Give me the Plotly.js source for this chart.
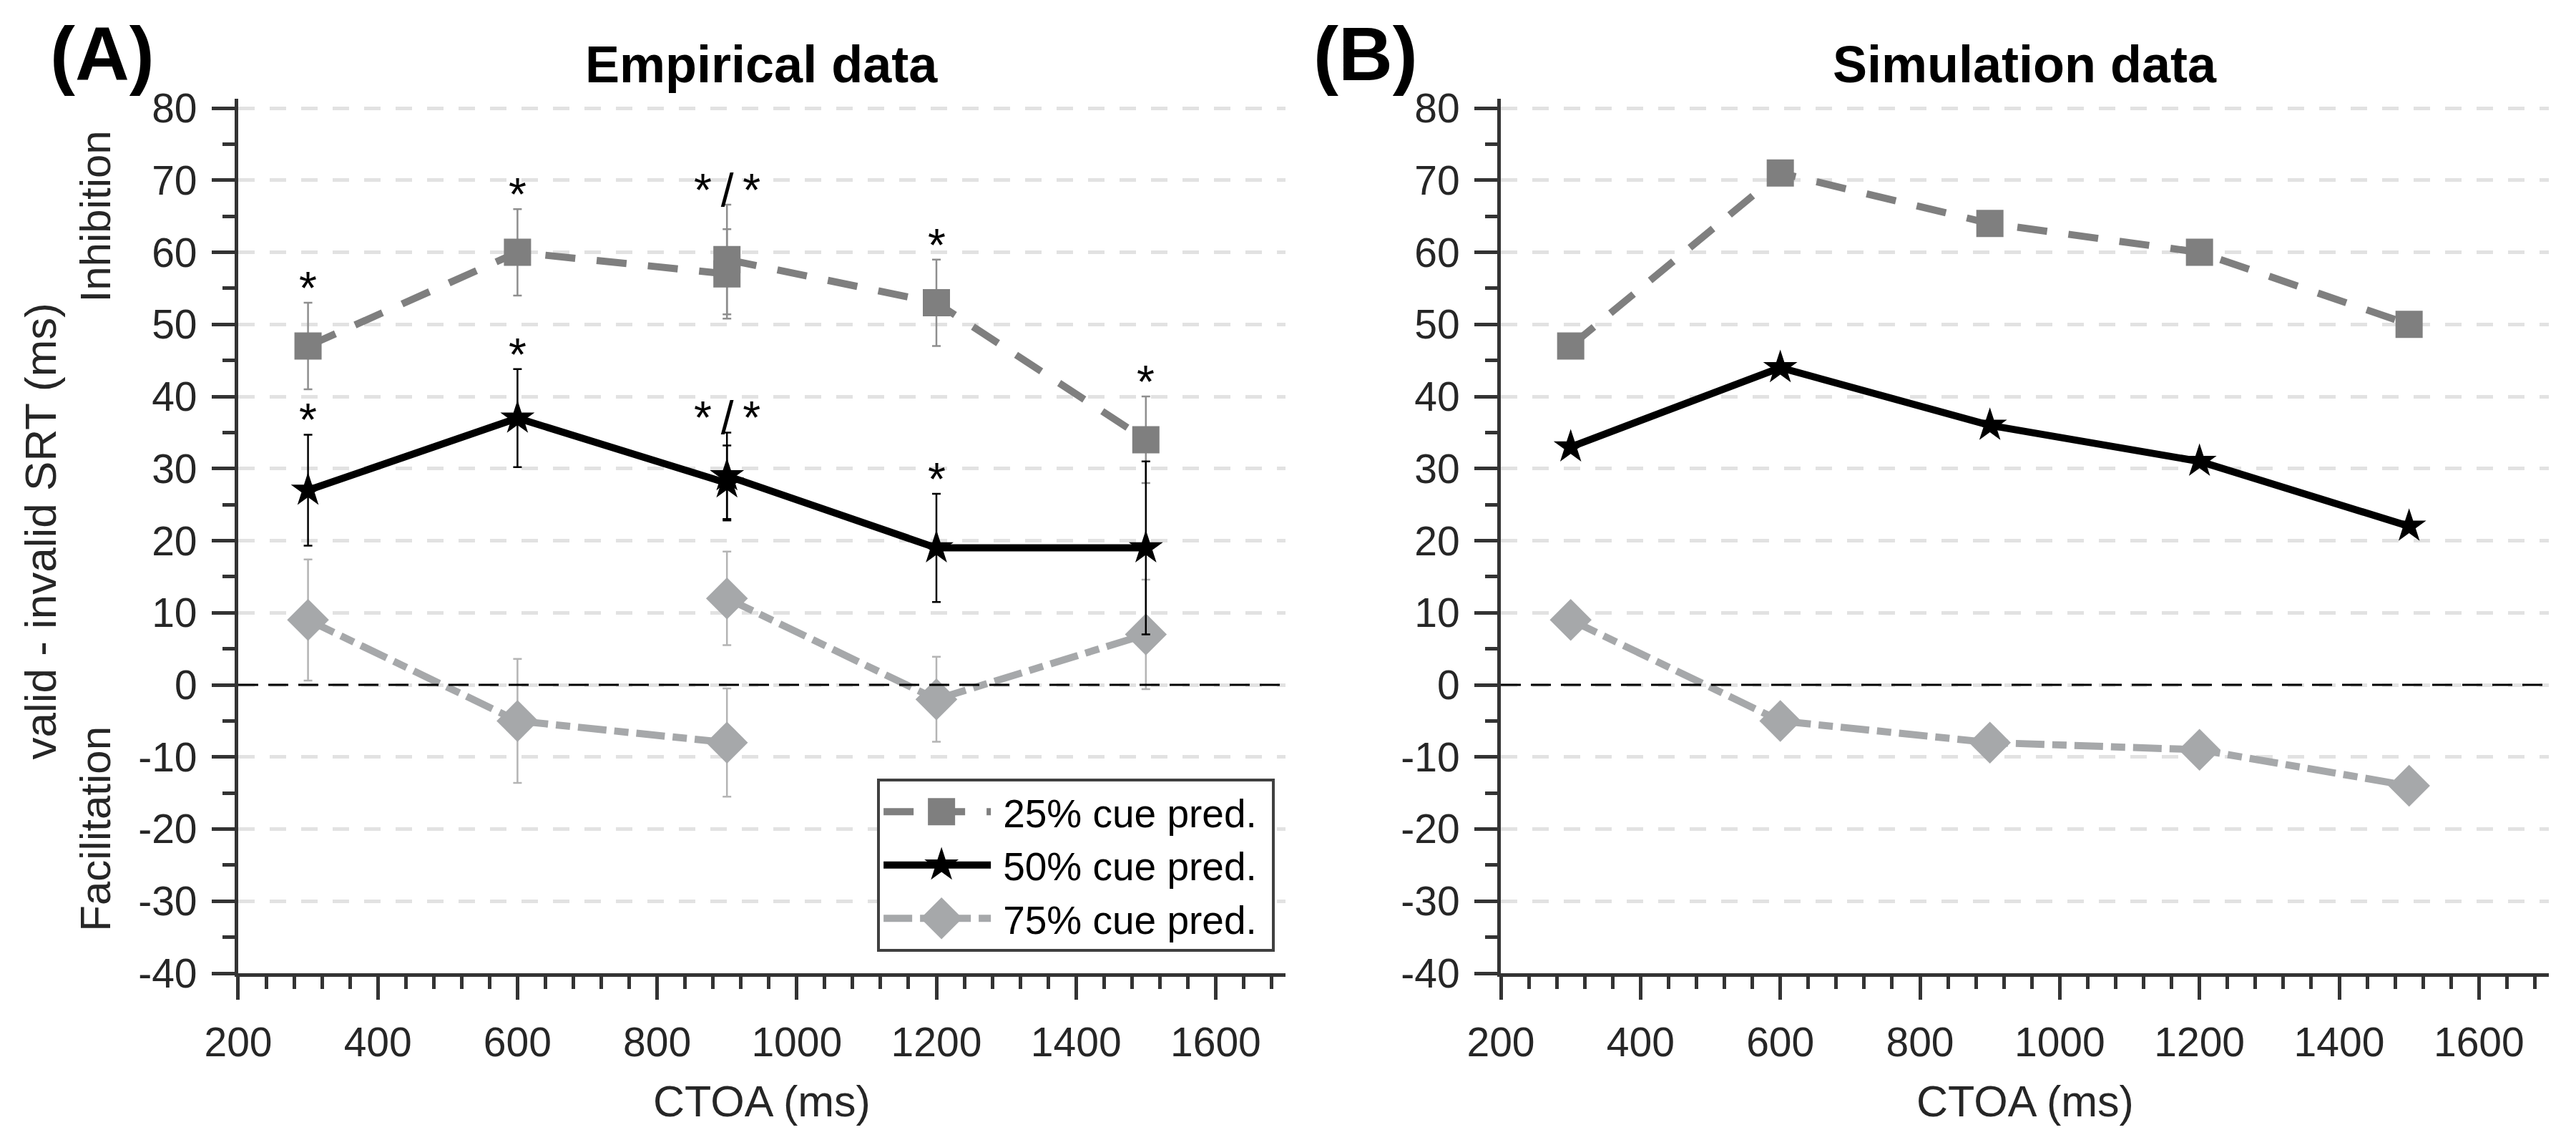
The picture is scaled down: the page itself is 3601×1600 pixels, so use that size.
<!DOCTYPE html>
<html>
<head>
<meta charset="utf-8">
<script src="https://cdn.plot.ly/plotly-3.0.1.min.js"></script>
<style>
html, body { margin: 0; padding: 0; background: #fff; }
#chart { width: 3601px; height: 1600px; }
</style>
</head>
<body>
<div id="chart"></div>
<script>
// CTOA levels: experiment 1 ran 300-900 ms, experiment 2 ran 900-1500 ms
var ctoaExp1 = [300, 600, 900];
var ctoaExp2 = [900, 1200, 1500];
var ctoaSim = [300, 600, 900, 1200, 1500];

// empirical valid - invalid SRT (ms)
var emp25Exp1 = [47, 60, 57];
var emp25Exp2 = [59, 53, 34];
var emp50Exp1 = [27, 37, 28];
var emp50Exp2 = [29, 19, 19];
var emp75Exp1 = [9, -5, -8];
var emp75Exp2 = [12, -2, 7];

// error bar half lengths (ms)
var err25Exp1 = [6, 6, 6.2];
var err25Exp2 = [7.6, 6, 6];
var err50Exp1 = [7.7, 6.8, 5.2];
var err50Exp2 = [6, 7.5, 12];
var err75Exp1 = [8.4, 8.6, 7.5];
var err75Exp2 = [6.5, 5.9, 7.6];

// significance marks above the error bars
var sigCtoa = [300, 600, 900, 1200, 1500];
var sig25 = ['*', '*', '*\u2009/\u2009*', '*', '*'];
var sig50 = ['*', '*', '*\u2009/\u2009*', '*', ''];

// simulation data
var sim25 = [47, 71, 64, 60, 50];
var sim50 = [33, 44, 36, 31, 22];
var sim75 = [9, -5, -8, -9, -14];

var seriesNames = ['25% cue pred.', '50% cue pred.', '75% cue pred.'];

// y tick labels (plain hyphen minus as in the figure)
var yTickVals = [-40, -30, -20, -10, 0, 10, 20, 30, 40, 50, 60, 70, 80];
var yTickText = ['-40', '-30', '-20', '-10', '0', '10', '20', '30', '40', '50', '60', '70', '80'];

var FONT = 'Liberation Sans, Arial, Helvetica, sans-serif';
var INK = '#262626';
var AXIS = '#333333';

var styles = [
  { color: '#7f7f7f', err: '#8e8e8e', dash: '42px,30px', symbol: 'square', size: 38 },
  { color: '#000000', err: '#000000', dash: 'solid', symbol: 'star', size: 36 },
  { color: '#a6a8aa', err: '#b4b4b4', dash: '40px,11px,20px,11px', symbol: 'diamond', size: 45 }
];

// join the two experiments with a gap so the line breaks at 900 ms
function joinExp(a, b) { return a.concat([null], b); }

var empX = joinExp(ctoaExp1, ctoaExp2);
var empY = [joinExp(emp25Exp1, emp25Exp2), joinExp(emp50Exp1, emp50Exp2), joinExp(emp75Exp1, emp75Exp2)];
var empE = [joinExp(err25Exp1, err25Exp2), joinExp(err50Exp1, err50Exp2), joinExp(err75Exp1, err75Exp2)];
var simY = [sim25, sim50, sim75];

var traces = [];
// draw 75% first so the darker series sit on top
[2, 0, 1].forEach(function (i) {
  var s = styles[i];
  traces.push({
    type: 'scatter', mode: 'lines+markers', name: seriesNames[i],
    x: empX, y: empY[i], xaxis: 'x', yaxis: 'y',
    legendrank: i + 1,
    line: { color: s.color, width: 10, dash: s.dash },
    marker: { symbol: s.symbol, size: s.size, color: s.color, line: { width: 0 } },
    error_y: { type: 'data', array: empE[i], visible: true, color: s.err, thickness: 2.5, width: 6 }
  });
});
[2, 0, 1].forEach(function (i) {
  var s = styles[i];
  traces.push({
    type: 'scatter', mode: 'lines+markers', name: seriesNames[i], showlegend: false,
    x: ctoaSim, y: simY[i], xaxis: 'x2', yaxis: 'y2',
    line: { color: s.color, width: 10, dash: s.dash },
    marker: { symbol: s.symbol, size: s.size, color: s.color, line: { width: 0 } }
  });
});

// significance annotations sit just above the highest error bar at that CTOA
function topAt(x, ys, es) {
  var best = null;
  for (var k = 0; k < empX.length; k++) {
    if (empX[k] === x && ys[k] !== null) {
      var t = ys[k] + es[k];
      if (best === null || t > best) best = t;
    }
  }
  return best;
}
var annotations = [];
[[sig25, 0], [sig50, 1]].forEach(function (pair) {
  pair[0].forEach(function (txt, j) {
    if (!txt) return;
    annotations.push({
      xref: 'x', yref: 'y', x: sigCtoa[j], y: topAt(sigCtoa[j], empY[pair[1]], empE[pair[1]]),
      text: txt, showarrow: false, xanchor: 'center', yanchor: 'middle', yshift: 20,
      font: { family: FONT, size: 64, color: '#000' }
    });
  });
});

function label(text, x, y, size, bold, extra) {
  var a = {
    xref: 'paper', yref: 'paper', x: x, y: y, showarrow: false,
    xanchor: 'center', yanchor: 'middle',
    text: bold ? '<b>' + text + '</b>' : text,
    font: { family: FONT, size: size, color: bold ? '#000' : INK }
  };
  for (var k in extra) a[k] = extra[k];
  return a;
}
var domA = [0.09247, 0.49903];
var domB = [0.58262, 0.98945];
function mid(d) { return (d[0] + d[1]) / 2; }

annotations.push(label('(A)', 0.0397, 0.9525, 105, true));
annotations.push(label('(B)', 0.530, 0.9525, 105, true));
annotations.push(label('Empirical data', mid(domA), 0.94375, 72, true));
annotations.push(label('Simulation data', mid(domB), 0.94375, 72, true));
annotations.push(label('CTOA (ms)', mid(domA), 0.0382, 61, false));
annotations.push(label('CTOA (ms)', mid(domB), 0.0382, 61, false));
annotations.push(label('valid - invalid SRT (ms)', 0.0156, 0.536, 62, false, { textangle: -90 }));
annotations.push(label('Inhibition', 0.0370, 0, 60, false, { textangle: -90, yref: 'y', y: 65 }));
annotations.push(label('Facilitation', 0.0370, 0, 60, false, { textangle: -90, yref: 'y', y: -20 }));

var tickFont = { family: FONT, size: 57, color: INK };
function xAxis(domain, anchor) {
  return {
    domain: domain, anchor: anchor, range: [200, 1700], tick0: 200, dtick: 200,
    ticks: 'outside', ticklen: 32, tickwidth: 5, tickcolor: AXIS, ticklabelstandoff: 11,
    showline: true, linewidth: 5, linecolor: AXIS, showgrid: false, zeroline: false,
    tickfont: tickFont,
    minor: { tick0: 200, dtick: 40, ticks: 'outside', ticklen: 17, tickwidth: 5, tickcolor: AXIS, showgrid: false }
  };
}
function yAxis(anchor) {
  return {
    domain: [0.15, 0.91375], anchor: anchor, range: [-40, 81.3],
    tickmode: 'array', tickvals: yTickVals, ticktext: yTickText,
    ticks: 'outside', ticklen: 32, tickwidth: 5, tickcolor: AXIS, ticklabelstandoff: 9,
    showline: true, linewidth: 5, linecolor: AXIS, zeroline: false,
    showgrid: true, gridcolor: '#e2e2e2', gridwidth: 5, griddash: '23px,21px',
    tickfont: tickFont,
    minor: { tickmode: 'linear', tick0: 0, dtick: 5, ticks: 'outside', ticklen: 17, tickwidth: 5, tickcolor: AXIS, showgrid: false }
  };
}

function zeroLine(xr, yr) {
  return {
    type: 'line', xref: xr, yref: yr, x0: 0, x1: 1, y0: 0, y1: 0, layer: 'above',
    line: { color: '#000', width: 3, dash: '28px,14px' }
  };
}

var layout = {
  width: 3601, height: 1600,
  margin: { l: 0, r: 0, t: 0, b: 0 },
  paper_bgcolor: '#fff', plot_bgcolor: '#fff',
  font: { family: FONT, color: INK },
  showlegend: true,
  legend: {
    x: 0.3405, y: 0.32, xanchor: 'left', yanchor: 'top',
    bgcolor: '#fff', bordercolor: '#404040', borderwidth: 4,
    font: { family: FONT, size: 55, color: '#000' },
    itemwidth: 162, traceorder: 'normal'
  },
  xaxis: xAxis(domA, 'y'),
  yaxis: yAxis('x'),
  xaxis2: xAxis(domB, 'y2'),
  yaxis2: yAxis('x2'),
  shapes: [zeroLine('x domain', 'y'), zeroLine('x2 domain', 'y2')],
  annotations: annotations
};

Plotly.newPlot('chart', traces, layout, { staticPlot: true }).then(function (gd) {
  // plotly caps legend symbol sizes; bring them back to the plotted sizes
  gd.querySelectorAll('.legend .traces').forEach(function (item) {
    var idx = seriesNames.indexOf(item.textContent);
    if (idx < 0) return;
    item.querySelectorAll('.legendlines path').forEach(function (p) {
      p.style.strokeWidth = '10px';
      var d = p.getAttribute('d') || '';
      p.setAttribute('d', d.replace(/h[\d.]+/, 'h150'));
    });
    item.querySelectorAll('.legendpoints path.scatterpts').forEach(function (p) {
      var t = p.getAttribute('transform') || '';
      p.setAttribute('transform', t + ' scale(' + (styles[idx].size / 16) + ')');
    });
  });
  var bg = gd.querySelector('.legend .bg');
  if (bg) bg.setAttribute('width', parseFloat(bg.getAttribute('width')) + 16);
});
</script>
</body>
</html>
